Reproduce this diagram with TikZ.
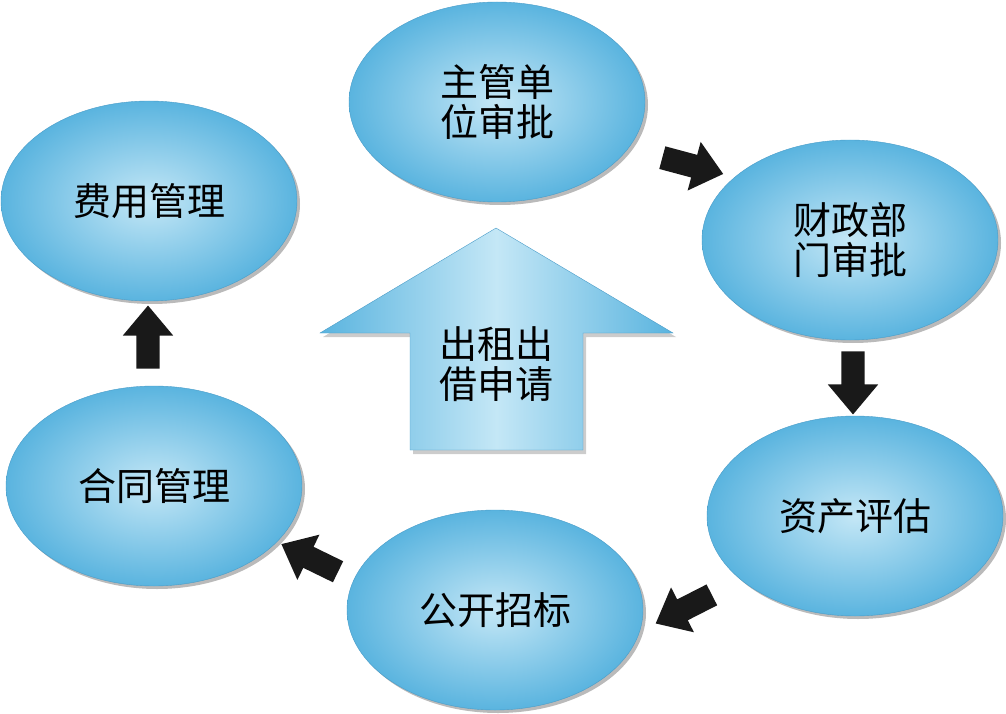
\documentclass[tikz,border=0pt]{standalone}
\usepackage{fontspec}
\setmainfont{Noto Sans CJK SC}
\usetikzlibrary{shapes.geometric,shapes.arrows,shadows}
\definecolor{edgeblue}{HTML}{5AB4DF}
\definecolor{coreblue}{HTML}{C4E7F6}
\definecolor{lineblue}{HTML}{4A9CC8}
\tikzset{
  stage/.style={ellipse, inner sep=0pt, minimum width=296pt, minimum height=200pt,
    inner color=coreblue, outer color=edgeblue, draw=lineblue, line width=0.4pt,
    drop shadow={shadow xshift=3pt, shadow yshift=-3pt, fill=black!45, opacity=0.6},
    align=center, font=\fontsize{38}{40}\selectfont},
  blk/.style={single arrow, fill=black!90, draw=none, inner sep=11.5pt,
    minimum height=63pt, single arrow head extend=13.5pt, single arrow tip angle=80}
}

\begin{document}
\begin{tikzpicture}[x=1pt, y=-1pt]
\useasboundingbox (0,0) rectangle (1006,714);

% central block arrow
\draw[lineblue, line width=0.4pt, left color=edgeblue, right color=edgeblue, middle color=coreblue,
  drop shadow={shadow xshift=3pt, shadow yshift=-4pt, fill=black!40, opacity=0.5}]
  (496,228) -- (673,333) -- (583,333) -- (583,450) -- (410,450) -- (410,333) -- (320,333) -- cycle;
\node[align=center, font=\fontsize{38}{40}\selectfont] (czsq) at (496,364) {出租出\\借申请};

\node[stage] (zgsp) at (497,102) {主管单\\位审批};
\node[stage] (czsp) at (850,240) {财政部\\门审批};
\node[stage] (zcpg) at (855,516) {资产评估};
\node[stage] (gkzb) at (495,610) {公开招标};
\node[stage] (htgl) at (154,486) {合同管理};
\node[stage] (fygl) at (149,201) {费用管理};

\node[blk, rotate=-15] (a1) at (686,164) {};
\node[blk, rotate=-90] (a2) at (853,376) {};
\node[blk, rotate=-153] (a3) at (690,606) {};
\node[blk, rotate=154] (a4) at (316,561) {};
\node[blk, rotate=90] (a5) at (148,344) {};
\end{tikzpicture}
\end{document}
